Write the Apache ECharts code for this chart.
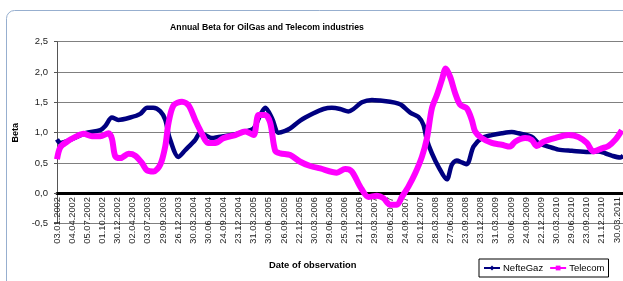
<!DOCTYPE html>
<html>
<head>
<meta charset="utf-8">
<script src="https://cdn.jsdelivr.net/npm/echarts@6/dist/echarts.min.js"></script>
<style>
    html, body { margin: 0; padding: 0; background: #fff; }
    #chart { width: 623px; height: 281px; }
</style>
</head>
<body>
<div id="chart"></div>
<script>
// tick labels of the category axis (one per quarter)
var dateLabels = ['03.01.2002', '04.04.2002', '05.07.2002', '01.10.2002', '30.12.2002', '02.04.2003',
    '03.07.2003', '29.09.2003', '26.12.2003', '30.03.2004', '30.06.2004', '24.09.2004', '23.12.2004',
    '31.03.2005', '30.06.2005', '26.09.2005', '22.12.2005', '30.03.2006', '29.06.2006', '25.09.2006',
    '21.12.2006', '29.03.2007', '28.06.2007', '24.09.2007', '20.12.2007', '28.03.2008', '27.06.2008',
    '23.09.2008', '23.12.2008', '31.03.2009', '30.06.2009', '24.09.2009', '22.12.2009', '30.03.2010',
    '29.06.2010', '23.09.2010', '21.12.2010', '30.03.2011'];

var yTicks = [-0.5, 0, 0.5, 1, 1.5, 2, 2.5];

// [position on the date axis (in quarters from 03.01.2002), beta]
var nefteGaz = [
    [0, 0.89], [0.22, 0.83], [0.88, 0.88], [1.87, 0.99], [2.86, 1.04], [3.19, 1.11], [3.63, 1.25],
    [4.05, 1.21], [4.84, 1.25], [5.5, 1.31], [5.96, 1.41], [6.36, 1.41], [6.83, 1.35], [7.16, 1.21],
    [7.42, 0.93], [8.03, 0.6], [8.47, 0.71], [9.13, 0.88], [9.46, 1.0], [9.79, 0.96], [10.24, 0.91],
    [10.67, 0.93], [11.56, 0.96], [12.44, 1.02], [12.99, 1.07], [13.43, 1.29], [13.76, 1.41],
    [14.2, 1.24], [14.64, 1.0], [15.08, 1.03], [15.41, 1.07], [16.07, 1.2], [16.95, 1.32],
    [17.61, 1.39], [18.16, 1.41], [18.71, 1.39], [19.26, 1.35], [19.59, 1.39], [20.15, 1.5],
    [20.81, 1.54], [21.35, 1.53], [22.01, 1.51], [22.56, 1.48], [22.79, 1.45], [23.34, 1.33],
    [23.88, 1.26], [24.21, 1.13], [24.44, 0.88], [24.77, 0.66], [25.2, 0.44], [25.76, 0.23],
    [26.09, 0.47], [26.42, 0.54], [26.75, 0.51], [27.08, 0.48], [27.52, 0.77], [28.07, 0.91],
    [28.73, 0.96], [29.39, 0.99], [30.05, 1.01], [30.49, 0.99], [31.37, 0.93], [31.81, 0.83],
    [32.47, 0.77], [33.13, 0.72], [34.02, 0.7], [35.11, 0.68], [35.77, 0.69], [36.22, 0.66],
    [36.66, 0.62], [37.21, 0.59], [37.41, 0.62]
];

var telecom = [
    [0, 0.56], [0.22, 0.76], [0.66, 0.85], [1.21, 0.93], [1.76, 0.98], [2.31, 0.94], [2.86, 0.94],
    [3.41, 0.99], [3.63, 0.9], [3.85, 0.61], [4.18, 0.58], [4.73, 0.65], [5.17, 0.62], [5.61, 0.5],
    [5.94, 0.38], [6.38, 0.36], [6.82, 0.47], [7.15, 0.77], [7.37, 1.16], [7.7, 1.45], [8.26, 1.51],
    [8.69, 1.45], [9.13, 1.21], [9.46, 1.04], [10.01, 0.83], [10.46, 0.83], [11.0, 0.91],
    [11.78, 0.96], [12.44, 1.02], [12.99, 0.96], [13.32, 1.29], [13.76, 1.29], [14.09, 1.16],
    [14.42, 0.7], [14.75, 0.66], [15.41, 0.63], [16.07, 0.52], [16.73, 0.45], [17.39, 0.41],
    [18.49, 0.34], [19.04, 0.4], [19.48, 0.36], [20.03, 0.11], [20.58, -0.06], [21.14, -0.04],
    [21.57, -0.08], [22.01, -0.19], [22.46, -0.19], [22.79, -0.06], [23.22, 0.11], [23.67, 0.33],
    [24.11, 0.6], [24.44, 0.9], [24.77, 1.4], [25.1, 1.62], [25.43, 1.87], [25.69, 2.06],
    [25.98, 1.92], [26.31, 1.65], [26.64, 1.46], [27.08, 1.4], [27.41, 1.21], [27.63, 1.02],
    [28.07, 0.91], [28.73, 0.83], [29.39, 0.8], [29.94, 0.77], [30.27, 0.85], [30.93, 0.91],
    [31.37, 0.88], [31.7, 0.78], [32.14, 0.85], [32.91, 0.91], [33.79, 0.96], [34.45, 0.93],
    [35.01, 0.83], [35.44, 0.69], [36.0, 0.74], [36.44, 0.78], [36.88, 0.88], [37.32, 1.04]
];

var font = 'Liberation Sans, Arial, sans-serif';
var chart = echarts.init(document.getElementById('chart'), null, { renderer: 'canvas' });

chart.setOption({
    animation: false,
    backgroundColor: '#fff',
    title: {
        text: 'Annual Beta for OilGas and Telecom industries',
        left: 262,
        top: 18,
        textAlign: 'center',
        textStyle: { fontFamily: font, fontSize: 8.7, fontWeight: 'bold', color: '#000' }
    },
    graphic: [{
        type: 'rect',
        shape: { x: 6.5, y: 10.5, width: 700, height: 400, r: 8 },
        style: { fill: 'none', stroke: '#97AFCF', lineWidth: 1 },
        silent: true
    }, {
        type: 'text',
        left: 269,
        top: 261,
        style: { text: 'Date of observation', font: 'bold 9.4px ' + font, fill: '#000' }
    }],
    legend: {
        left: 479,
        top: 259,
        padding: [4, 4],
        itemGap: 6,
        itemWidth: 16,
        itemHeight: 6,
        borderColor: '#000',
        borderWidth: 1,
        backgroundColor: '#fff',
        textStyle: { fontFamily: font, fontSize: 9.5, color: '#000', padding: [0, 0, 0, -2] },
        data: ['NefteGaz', 'Telecom']
    },
    grid: { left: 57, right: 0, top: 41.7, bottom: 57.4, containLabel: false },
    xAxis: {
        type: 'value',
        min: 0,
        max: 37.4,
        interval: 1,
        axisLine: { onZero: true, lineStyle: { color: '#000', width: 3 } },
        axisTick: { show: false },
        splitLine: { show: false },
        axisLabel: {
            rotate: 90,
            margin: -26.5,
            align: 'right',
            verticalAlign: 'middle',
            fontFamily: font,
            fontSize: 9.3,
            color: '#222',
            showMaxLabel: false,
            formatter: function(v) {
                return Number.isInteger(v) && dateLabels[v] ? dateLabels[v] : '';
            }
        }
    },
    yAxis: {
        type: 'value',
        min: yTicks[0],
        max: yTicks[yTicks.length - 1],
        interval: 0.5,
        name: 'Beta',
        nameLocation: 'middle',
        nameGap: 37,
        nameTextStyle: { fontFamily: font, fontSize: 9, fontWeight: 'bold', color: '#000' },
        axisLine: { show: true, lineStyle: { color: '#555', width: 1 } },
        axisTick: { show: true, length: 3, lineStyle: { color: '#555' } },
        splitLine: { lineStyle: { color: '#808080', width: 1 } },
        axisLabel: {
            fontFamily: font,
            fontSize: 9.5,
            color: '#222',
            margin: 9,
            formatter: function(v) { return v.toFixed(1).replace('.', ','); }
        }
    },
    series: [{
        name: 'NefteGaz',
        type: 'line',
        data: nefteGaz,
        smooth: 0.3,
        symbol: 'diamond',
        symbolSize: 6,
        showSymbol: false,
        color: '#000080',
        lineStyle: { color: '#000080', width: 4.5 },
        z: 2
    }, {
        name: 'Telecom',
        type: 'line',
        data: telecom,
        smooth: 0.3,
        symbol: 'rect',
        symbolSize: 6,
        showSymbol: false,
        color: '#FF00FF',
        lineStyle: { color: '#FF00FF', width: 6 },
        z: 3
    }]
});
</script>
</body>
</html>
